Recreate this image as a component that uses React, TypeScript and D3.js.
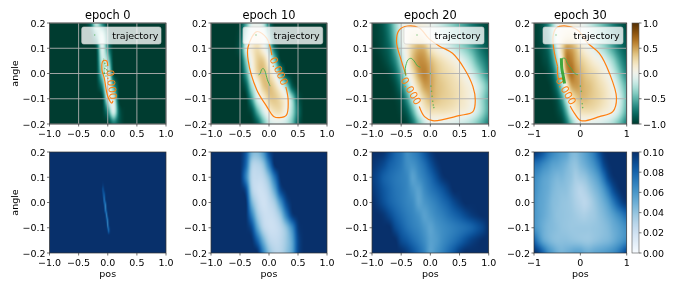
import React, { useMemo } from 'react';
import * as d3 from 'd3';

const epochs = [0, 10, 20, 30];
const angleRows = [0.2, 0.15, 0.1, 0.05, 0, -0.05, -0.1, -0.15, -0.2];
const posFull = [-1, -0.9, -0.8, -0.7, -0.6, -0.5, -0.4, -0.3, -0.2, -0.1, 0, 0.1, 0.2, 0.3, 0.4, 0.5, 0.6, 0.7, 0.8, 0.9, 1];
const posEpoch0 = [-0.4, -0.3, -0.2, -0.1, 0, 0.1, 0.2, 0.3];
const posEpoch10 = [-0.7, -0.6, -0.5, -0.4, -0.3, -0.2, -0.1, 0, 0.1, 0.2, 0.3, 0.4, 0.5, 0.6, 0.7];
const posSliver = [-0.12, -0.1, -0.08, -0.06, -0.04, -0.02, 0, 0.02, 0.04];
const angleSliver = [0.09, 0.07, 0.05, 0.03, 0.01, -0.01, -0.03, -0.05, -0.07, -0.09, -0.11, -0.13];

// value function, top row
const value0 = [
  [-1, -0.8, -0.2, -0.65, -1, -1, -1, -1],
  [-1, -1, -0.55, -0.15, -0.8, -1, -1, -1],
  [-1, -1, -0.95, -0.1, -0.65, -1, -1, -1],
  [-1, -1, -1, -0.2, -0.3, -1, -1, -1],
  [-1, -1, -1, -0.35, -0.02, -0.92, -1, -1],
  [-1, -1, -1, -0.7, 0.02, -0.55, -1, -1],
  [-1, -1, -1, -1, -0.15, -0.15, -1, -1],
  [-1, -1, -1, -1, -0.65, -0.12, -0.85, -1],
  [-1, -1, -1, -1, -1, -0.75, -0.9, -1],
];
const value10 = [
  [-1, -1, -0.95, -0.55, -0.1, -0.05, -0.2, -0.75, -1, -1, -1, -1, -1, -1, -1],
  [-1, -1, -0.9, -0.35, 0, 0.08, 0, -0.45, -0.95, -1, -1, -1, -1, -1, -1],
  [-1, -1, -0.85, -0.15, 0.12, 0.24, 0.06, -0.25, -0.8, -1, -1, -1, -1, -1, -1],
  [-1, -1, -0.95, -0.4, 0.03, 0.32, 0.34, 0.03, -0.4, -0.95, -1, -1, -1, -1, -1],
  [-1, -1, -1, -0.6, -0.05, 0.28, 0.4, 0.24, -0.02, -0.5, -0.95, -1, -1, -1, -1],
  [-1, -1, -1, -0.85, -0.3, 0.02, 0.34, 0.4, 0.26, 0, -0.35, -0.85, -1, -1, -1],
  [-1, -1, -1, -1, -0.6, -0.12, 0.08, 0.32, 0.35, 0.24, 0.03, -0.35, -0.85, -1, -1],
  [-1, -1, -1, -1, -0.9, -0.5, -0.15, 0.1, 0.22, 0.22, 0, -0.3, -0.75, -1, -1],
  [-1, -1, -1, -1, -1, -0.85, -0.5, -0.2, -0.1, -0.12, -0.2, -0.45, -0.85, -1, -1],
];
const value20 = [
  [-0.98, -0.95, -0.85, -0.65, -0.35, -0.1, 0.03, 0.08, 0.07, 0.04, -0.02, -0.1, -0.2, -0.3, -0.4, -0.5, -0.6, -0.72, -0.82, -0.9, -0.95],
  [-0.98, -0.95, -0.88, -0.7, -0.4, -0.08, 0.1, 0.2, 0.22, 0.14, 0.02, -0.08, -0.16, -0.25, -0.35, -0.45, -0.55, -0.65, -0.75, -0.85, -0.92],
  [-1, -0.97, -0.9, -0.78, -0.5, -0.15, 0.1, 0.33, 0.45, 0.42, 0.2, 0.08, 0, -0.08, -0.18, -0.28, -0.38, -0.5, -0.65, -0.78, -0.88],
  [-1, -1, -0.95, -0.85, -0.65, -0.3, 0.05, 0.38, 0.55, 0.55, 0.42, 0.3, 0.22, 0.15, 0.08, -0.02, -0.15, -0.3, -0.5, -0.65, -0.78],
  [-1, -1, -1, -0.95, -0.8, -0.5, -0.08, 0.22, 0.5, 0.6, 0.5, 0.38, 0.3, 0.25, 0.2, 0.12, 0, -0.12, -0.3, -0.5, -0.68],
  [-1, -1, -1, -1, -0.92, -0.7, -0.35, 0.03, 0.3, 0.5, 0.5, 0.4, 0.35, 0.3, 0.25, 0.2, 0.12, 0.04, -0.12, -0.3, -0.5],
  [-1, -1, -1, -1, -0.98, -0.88, -0.6, -0.2, 0.1, 0.3, 0.42, 0.38, 0.33, 0.3, 0.26, 0.2, 0.14, 0.05, -0.15, -0.35, -0.55],
  [-1, -1, -1, -1, -1, -0.95, -0.82, -0.5, -0.12, 0.12, 0.22, 0.22, 0.22, 0.2, 0.17, 0.12, 0.08, -0.01, -0.15, -0.35, -0.55],
  [-1, -1, -1, -1, -1, -1, -0.95, -0.75, -0.45, -0.2, -0.05, -0.05, -0.06, -0.08, -0.1, -0.15, -0.2, -0.28, -0.4, -0.55, -0.7],
];
const value30 = [
  [-0.98, -0.95, -0.85, -0.65, -0.35, -0.05, 0.05, 0.08, 0.08, 0.05, 0, -0.08, -0.18, -0.28, -0.38, -0.48, -0.58, -0.7, -0.8, -0.88, -0.95],
  [-0.98, -0.95, -0.88, -0.72, -0.38, -0.02, 0.12, 0.2, 0.22, 0.15, 0.05, -0.02, -0.12, -0.22, -0.32, -0.42, -0.52, -0.62, -0.72, -0.82, -0.9],
  [-1, -0.97, -0.92, -0.8, -0.5, -0.1, 0.25, 0.52, 0.5, 0.38, 0.2, 0.08, 0, -0.1, -0.2, -0.3, -0.42, -0.55, -0.68, -0.78, -0.86],
  [-1, -1, -0.95, -0.88, -0.65, -0.28, 0.12, 0.6, 0.62, 0.48, 0.35, 0.26, 0.18, 0.1, 0.04, -0.05, -0.18, -0.32, -0.5, -0.66, -0.78],
  [-1, -1, -1, -0.95, -0.82, -0.5, -0.1, 0.45, 0.66, 0.55, 0.45, 0.36, 0.3, 0.25, 0.18, 0.1, 0, -0.14, -0.32, -0.52, -0.68],
  [-1, -1, -1, -1, -0.92, -0.7, -0.32, 0.1, 0.45, 0.52, 0.48, 0.42, 0.38, 0.32, 0.26, 0.2, 0.12, 0.02, -0.15, -0.35, -0.52],
  [-1, -1, -1, -1, -0.98, -0.88, -0.6, -0.2, 0.12, 0.3, 0.4, 0.4, 0.36, 0.32, 0.28, 0.22, 0.15, 0.07, -0.05, -0.25, -0.48],
  [-1, -1, -1, -1, -1, -0.95, -0.82, -0.5, -0.1, 0.12, 0.22, 0.24, 0.24, 0.22, 0.18, 0.13, 0.08, 0, -0.12, -0.32, -0.52],
  [-1, -1, -1, -1, -1, -1, -0.95, -0.75, -0.45, -0.2, -0.05, -0.05, -0.06, -0.08, -0.1, -0.15, -0.2, -0.28, -0.4, -0.55, -0.7],
];

// uncertainty, bottom row
const std0 = [
  [0.1, 0.1, 0.1, 0.1, 0.1, 0.1, 0.1, 0.1, 0.1],
  [0.1, 0.1, 0.096, 0.1, 0.1, 0.1, 0.1, 0.1, 0.1],
  [0.1, 0.098, 0.086, 0.097, 0.1, 0.1, 0.1, 0.1, 0.1],
  [0.1, 0.1, 0.09, 0.08, 0.1, 0.1, 0.1, 0.1, 0.1],
  [0.1, 0.1, 0.098, 0.07, 0.095, 0.1, 0.1, 0.1, 0.1],
  [0.1, 0.1, 0.1, 0.09, 0.065, 0.098, 0.1, 0.1, 0.1],
  [0.1, 0.1, 0.1, 0.098, 0.068, 0.09, 0.1, 0.1, 0.1],
  [0.1, 0.1, 0.1, 0.1, 0.097, 0.065, 0.098, 0.1, 0.1],
  [0.1, 0.1, 0.1, 0.1, 0.1, 0.085, 0.07, 0.1, 0.1],
  [0.1, 0.1, 0.1, 0.1, 0.1, 0.098, 0.065, 0.095, 0.1],
  [0.1, 0.1, 0.1, 0.1, 0.1, 0.1, 0.09, 0.078, 0.1],
  [0.1, 0.1, 0.1, 0.1, 0.1, 0.1, 0.1, 0.1, 0.1],
];
const std10 = [
  [0.1, 0.1, 0.1, 0.085, 0.05, 0.045, 0.06, 0.09, 0.1, 0.1, 0.1, 0.1, 0.1, 0.1, 0.1],
  [0.1, 0.1, 0.1, 0.08, 0.035, 0.03, 0.04, 0.07, 0.1, 0.1, 0.1, 0.1, 0.1, 0.1, 0.1],
  [0.1, 0.1, 0.1, 0.07, 0.03, 0.025, 0.028, 0.045, 0.075, 0.1, 0.1, 0.1, 0.1, 0.1, 0.1],
  [0.1, 0.1, 0.1, 0.09, 0.035, 0.022, 0.022, 0.032, 0.055, 0.09, 0.1, 0.1, 0.1, 0.1, 0.1],
  [0.1, 0.1, 0.1, 0.1, 0.05, 0.028, 0.02, 0.025, 0.036, 0.062, 0.09, 0.1, 0.1, 0.1, 0.1],
  [0.1, 0.1, 0.1, 0.1, 0.07, 0.038, 0.024, 0.022, 0.026, 0.04, 0.07, 0.095, 0.1, 0.1, 0.1],
  [0.1, 0.1, 0.1, 0.1, 0.09, 0.055, 0.03, 0.022, 0.022, 0.028, 0.042, 0.065, 0.095, 0.1, 0.1],
  [0.1, 0.1, 0.1, 0.1, 0.1, 0.08, 0.05, 0.03, 0.025, 0.028, 0.038, 0.055, 0.09, 0.1, 0.1],
  [0.1, 0.1, 0.1, 0.1, 0.1, 0.1, 0.07, 0.042, 0.03, 0.03, 0.04, 0.055, 0.09, 0.1, 0.1],
];
const std20 = [
  [0.1, 0.1, 0.098, 0.09, 0.08, 0.074, 0.064, 0.068, 0.074, 0.085, 0.095, 0.1, 0.1, 0.1, 0.1, 0.1, 0.1, 0.1, 0.1, 0.1, 0.1],
  [0.098, 0.095, 0.09, 0.082, 0.077, 0.072, 0.064, 0.062, 0.068, 0.076, 0.087, 0.096, 0.1, 0.1, 0.1, 0.1, 0.1, 0.1, 0.1, 0.1, 0.1],
  [0.095, 0.09, 0.082, 0.077, 0.073, 0.07, 0.066, 0.056, 0.063, 0.07, 0.078, 0.088, 0.097, 0.1, 0.1, 0.1, 0.1, 0.1, 0.1, 0.1, 0.1],
  [0.097, 0.092, 0.085, 0.079, 0.074, 0.071, 0.067, 0.06, 0.056, 0.065, 0.072, 0.078, 0.085, 0.093, 0.1, 0.1, 0.1, 0.1, 0.1, 0.1, 0.1],
  [0.1, 0.095, 0.088, 0.081, 0.076, 0.072, 0.068, 0.064, 0.055, 0.06, 0.065, 0.07, 0.076, 0.082, 0.09, 0.096, 0.1, 0.1, 0.1, 0.1, 0.1],
  [0.1, 0.1, 0.097, 0.09, 0.082, 0.076, 0.071, 0.067, 0.062, 0.056, 0.06, 0.065, 0.069, 0.074, 0.079, 0.084, 0.09, 0.095, 0.098, 0.1, 0.1],
  [0.1, 0.1, 0.1, 0.1, 0.09, 0.082, 0.075, 0.07, 0.066, 0.06, 0.055, 0.06, 0.064, 0.067, 0.07, 0.073, 0.076, 0.08, 0.086, 0.092, 0.1],
  [0.1, 0.1, 0.1, 0.1, 0.1, 0.09, 0.084, 0.077, 0.071, 0.064, 0.056, 0.058, 0.064, 0.069, 0.074, 0.08, 0.087, 0.093, 0.097, 0.1, 0.1],
  [0.1, 0.1, 0.1, 0.1, 0.1, 0.1, 0.095, 0.087, 0.078, 0.068, 0.055, 0.061, 0.068, 0.076, 0.085, 0.095, 0.1, 0.1, 0.1, 0.1, 0.1],
];
const std30 = [
  [0.097, 0.092, 0.084, 0.074, 0.067, 0.062, 0.058, 0.055, 0.047, 0.045, 0.05, 0.056, 0.063, 0.072, 0.086, 0.097, 0.1, 0.1, 0.1, 0.1, 0.1],
  [0.075, 0.072, 0.066, 0.061, 0.056, 0.054, 0.051, 0.047, 0.042, 0.04, 0.045, 0.05, 0.056, 0.063, 0.074, 0.09, 0.098, 0.1, 0.1, 0.1, 0.1],
  [0.066, 0.061, 0.056, 0.053, 0.049, 0.046, 0.046, 0.043, 0.04, 0.035, 0.037, 0.04, 0.046, 0.052, 0.06, 0.074, 0.09, 0.098, 0.1, 0.1, 0.1],
  [0.064, 0.058, 0.054, 0.051, 0.046, 0.043, 0.042, 0.041, 0.037, 0.032, 0.029, 0.032, 0.038, 0.044, 0.05, 0.059, 0.072, 0.087, 0.096, 0.1, 0.1],
  [0.062, 0.056, 0.053, 0.049, 0.044, 0.042, 0.04, 0.039, 0.037, 0.033, 0.03, 0.028, 0.032, 0.038, 0.044, 0.05, 0.058, 0.07, 0.082, 0.092, 0.098],
  [0.061, 0.056, 0.052, 0.048, 0.044, 0.041, 0.04, 0.039, 0.038, 0.036, 0.034, 0.033, 0.035, 0.037, 0.041, 0.045, 0.05, 0.056, 0.063, 0.07, 0.078],
  [0.062, 0.056, 0.05, 0.046, 0.044, 0.042, 0.04, 0.039, 0.038, 0.038, 0.038, 0.038, 0.038, 0.039, 0.04, 0.042, 0.045, 0.05, 0.054, 0.059, 0.064],
  [0.08, 0.066, 0.054, 0.048, 0.044, 0.042, 0.042, 0.042, 0.041, 0.04, 0.039, 0.038, 0.038, 0.04, 0.042, 0.044, 0.046, 0.05, 0.055, 0.06, 0.066],
  [0.1, 0.092, 0.079, 0.065, 0.057, 0.05, 0.047, 0.049, 0.052, 0.055, 0.055, 0.051, 0.05, 0.053, 0.055, 0.057, 0.06, 0.064, 0.07, 0.08, 0.092],
];

// zero level of the value function, [pos, angle]
const contour0 = [[[0, 0.03], [-0.02, 0.05], [-0.08, 0.05], [-0.1, 0.015], [-0.06, -0.018], [0, -0.09], [0.07, -0.117], [0.09, -0.108]]];
const contour10 = [[[0.05, 0.073], [-0.04, 0.14], [-0.21, 0.166], [-0.36, 0.106], [-0.36, 0.053], [-0.21, -0.065], [-0.04, -0.13], [0.08, -0.17], [0.18, -0.175], [0.3, -0.165], [0.33, -0.105], [0.29, -0.053]]];
const contour20 = [[[-0.417, -0.006], [-0.5, 0.053], [-0.58, 0.126], [-0.535, 0.172], [-0.39, 0.188], [-0.19, 0.18], [-0.02, 0.137], [0.15, 0.109], [0.38, 0.08], [0.58, 0.02], [0.73, -0.052], [0.77, -0.105], [0.73, -0.151], [0.49, -0.167], [0.04, -0.187], [-0.1, -0.171], [-0.19, -0.131]]];
const contour30 = [
  [[-0.49, 0.027], [-0.57, 0.093], [-0.59, 0.146], [-0.52, 0.18], [-0.31, 0.188], [-0.06, 0.172], [0.16, 0.12], [0.41, 0.08], [0.63, 0], [0.78, -0.097], [0.7, -0.151], [0.41, -0.171], [0.02, -0.187], [-0.13, -0.157], [-0.22, -0.129]],
  [[-0.49, 0.027], [-0.47, -0.02], [-0.38, -0.022], [-0.34, -0.03]],
];
const contourLabels = [
  { pos: 0.068, angle: -0.044, rotate: 83 },
  { pos: 0.172, angle: 0.01, rotate: 65 },
  { pos: -0.33, angle: -0.069, rotate: 60 },
  { pos: -0.31, angle: -0.069, rotate: 60 },
];

// trajectories: dense stretch as a path, sparse visits as dots
const path0 = [[-0.07, 0.06], [-0.065, 0.03], [-0.06, 0]];
const path10 = [[-0.18, -0.005], [-0.15, 0], [-0.13, 0.015], [-0.1, 0.02], [-0.07, 0.01], [-0.04, -0.015], [-0.02, -0.03], [0, -0.04], [0.02, -0.05]];
const path20 = [[-0.42, -0.01], [-0.43, 0], [-0.43, 0.02], [-0.41, 0.04], [-0.38, 0.055], [-0.33, 0.06], [-0.28, 0.05], [-0.22, 0.03], [-0.17, 0.025]];
const path30 = [[-0.39, 0.06], [-0.33, 0.06], [-0.28, 0.04], [-0.2, 0.02], [-0.12, 0], [-0.05, -0.005]];
const dots0 = [[-0.05, 0.04], [-0.03, 0.03], [-0.05, 0.02], [-0.02, 0.015], [-0.06, 0], [-0.06, 0.002], [-0.03, -0.01], [0, 0.01]];
const dots10: number[][] = [];
const dots20 = [[0, 0], [0.01, -0.05], [0.02, -0.07], [0.03, -0.09], [0.04, -0.11], [0.05, -0.125], [0.06, -0.135]];
const dots30 = [[0, -0.05], [0.02, -0.07], [0.02, -0.1], [0.04, -0.12], [0.05, -0.135]];
const streak30 = [[-0.41, 0.06], [-0.4, 0.02], [-0.37, -0.01], [-0.34, -0.04]];

const valueTicks = [-1, -0.5, 0, 0.5, 1];
const stdTicks = [0, 0.02, 0.04, 0.06, 0.08, 0.1];
const angleTicks = [-0.2, -0.1, 0, 0.1, 0.2];
const posTicks = [-1, -0.5, 0, 0.5, 1];
const posTicksLast = [-1, 0, 1];

const panelX = [[49.5, 166], [211, 327], [372, 488.7], [534, 626.7]];
const rowY = [[23, 124], [152, 253]];
const legendX = [[81.7, 161], [243, 322.7], [404, 484], [543, 623]];
const barX = [632, 639];
const FONT = '"DejaVu Sans", sans-serif';
const TICK_SIZE = 9.5;

const valueColor = (v: number) => d3.interpolateBrBG((1 - v) / 2);
const stdColor = (v: number) => d3.interpolateBlues(v / 0.1);

function heatImage(xs: number[], ys: number[], rows: number[][], color: (v: number) => string, w: number, h: number, vMin: number, vMax: number) {
  const canvas = document.createElement('canvas');
  canvas.width = w;
  canvas.height = h;
  const ctx = canvas.getContext('2d')!;
  const image = ctx.createImageData(w, h);
  const xIndex = d3.scaleLinear().domain(xs).range(d3.range(xs.length)).clamp(true);
  const yIndex = d3.scaleLinear().domain(ys).range(d3.range(ys.length)).clamp(true);
  const cubic = (a: number, b: number, c: number, d: number, t: number) =>
    b + 0.5 * t * (c - a + t * (2 * a - 5 * b + 4 * c - d + t * (3 * (b - c) + d - a)));
  const at = (i: number, j: number) =>
    rows[Math.max(0, Math.min(rows.length - 1, j))][Math.max(0, Math.min(xs.length - 1, i))];
  for (let py = 0; py < h; py++) {
    const fy = yIndex(0.2 - ((py + 0.5) / h) * 0.4);
    const j = Math.floor(fy);
    for (let px = 0; px < w; px++) {
      const fx = xIndex(-1 + ((px + 0.5) / w) * 2);
      const i = Math.floor(fx);
      const line = [-1, 0, 1, 2].map(d =>
        cubic(at(i - 1, j + d), at(i, j + d), at(i + 1, j + d), at(i + 2, j + d), fx - i));
      const v = cubic(line[0], line[1], line[2], line[3], fy - j);
      const c = d3.rgb(color(Math.max(vMin, Math.min(vMax, v))));
      const k = (py * w + px) * 4;
      image.data[k] = c.r;
      image.data[k + 1] = c.g;
      image.data[k + 2] = c.b;
      image.data[k + 3] = 255;
    }
  }
  ctx.putImageData(image, 0, 0);
  return canvas.toDataURL();
}

const topGrids = [
  { xs: posEpoch0, rows: value0 },
  { xs: posEpoch10, rows: value10 },
  { xs: posFull, rows: value20 },
  { xs: posFull, rows: value30 },
];
const bottomGrids = [
  { xs: posSliver, ys: angleSliver, rows: std0 },
  { xs: posEpoch10, ys: angleRows, rows: std10 },
  { xs: posFull, ys: angleRows, rows: std20 },
  { xs: posFull, ys: angleRows, rows: std30 },
];
const contours = [contour0, contour10, contour20, contour30];
const paths = [path0, path10, path20, path30];
const dots = [dots0, dots10, dots20, dots30];

function Frame({ col, row, xTicks }: { col: number; row: number; xTicks: number[] }) {
  const [x0, x1] = panelX[col];
  const [y0, y1] = rowY[row];
  const x = d3.scaleLinear().domain([-1, 1]).range([x0, x1]);
  const y = d3.scaleLinear().domain([-0.2, 0.2]).range([y1, y0]);
  const fx = xTicks.length === 3 ? d3.format('d') : d3.format('.1f');
  return (
    <g fontFamily={FONT} fontSize={TICK_SIZE} fill="#000">
      <rect x={x0} y={y0} width={x1 - x0} height={y1 - y0} fill="none" stroke="#333" strokeWidth={0.7} />
      {xTicks.map(t => (
        <g key={t}>
          <line x1={x(t)} x2={x(t)} y1={y1} y2={y1 + 2.5} stroke="#333" strokeWidth={0.7} />
          <text x={x(t)} y={y1 + 12.5} textAnchor="middle">{fx(t)}</text>
        </g>
      ))}
      {angleTicks.map(t => (
        <g key={t}>
          <line x1={x0 - 2.5} x2={x0} y1={y(t)} y2={y(t)} stroke="#333" strokeWidth={0.7} />
          <text x={x0 - 4} y={y(t) + 3.5} textAnchor="end">{d3.format('.1f')(t)}</text>
        </g>
      ))}
    </g>
  );
}

export default function App() {
  const tops = useMemo(() => topGrids.map((g, i) => {
    const w = Math.round(panelX[i][1] - panelX[i][0]);
    return heatImage(g.xs, angleRows, g.rows, valueColor, w, 101, -1, 1);
  }), []);
  const bottoms = useMemo(() => bottomGrids.map((g, i) => {
    const w = Math.round(panelX[i][1] - panelX[i][0]);
    return heatImage(g.xs, g.ys, g.rows, stdColor, w, 101, 0, 0.1);
  }), []);

  const barValue = d3.scaleLinear().domain([-1, 1]).range([rowY[0][1], rowY[0][0]]);
  const barStd = d3.scaleLinear().domain([0, 0.1]).range([rowY[1][1], rowY[1][0]]);

  return (
    <svg width={676} height={290} style={{ position: 'absolute', left: 0, top: 0, background: '#fff', filter: 'blur(0.35px)' }}>
      {epochs.map((e, col) => {
        const [x0, x1] = panelX[col];
        const x = d3.scaleLinear().domain([-1, 1]).range([x0, x1]);
        const y = d3.scaleLinear().domain([-0.2, 0.2]).range([rowY[0][1], rowY[0][0]]);
        const line = d3.line<number[]>().x(d => x(d[0])).y(d => y(d[1])).curve(d3.curveCatmullRom);
        const xTicks = col === 3 ? posTicksLast : posTicks;
        const lab = contourLabels[col];
        const [lx0, lx1] = legendX[col];
        return (
          <g key={e}>
            <image href={tops[col]} x={x0} y={rowY[0][0]} width={x1 - x0} height={101} preserveAspectRatio="none" />
            {xTicks.map(t => (
              <line key={t} x1={x(t)} x2={x(t)} y1={rowY[0][0]} y2={rowY[0][1]} stroke="#b0b0b0" strokeWidth={0.9} />
            ))}
            {angleTicks.map(t => (
              <line key={t} x1={x0} x2={x1} y1={y(t)} y2={y(t)} stroke="#b0b0b0" strokeWidth={0.9} />
            ))}
            {contours[col].map((c, i) => (
              <path key={i} d={line(c) ?? ''} fill="none" stroke="#ff7f0e" strokeWidth={1.2} />
            ))}
            <text
              transform={`translate(${x(lab.pos)},${y(lab.angle)}) rotate(${lab.rotate})`}
              textAnchor="middle" dy="0.36em" fontFamily={FONT} fontSize={10.5} fill="#ff7f0e"
            >0.000</text>
            <path d={line(paths[col]) ?? ''} fill="none" stroke="#3fae49" strokeWidth={col === 0 ? 0.6 : 1} opacity={col === 0 ? 0.6 : 0.9} />
            {col === 3 && <path d={line(streak30) ?? ''} fill="none" stroke="#2ca02c" strokeWidth={3} opacity={0.9} />}
            {dots[col].map((d, i) => (
              <circle key={i} cx={x(d[0])} cy={y(d[1])} r={0.8} fill="#3fae49" opacity={0.75} />
            ))}
            <rect x={lx0} y={27} width={lx1 - lx0} height={17} rx={2} fill="#fff" fillOpacity={0.78} stroke="#ccc" strokeWidth={0.6} />
            <circle cx={lx0 + 13} cy={35} r={0.7} fill="#2ca02c" opacity={0.6} />
            <text x={lx0 + 30.5} y={38.5} fontFamily={FONT} fontSize={TICK_SIZE} fill="#000">trajectory</text>
            <text x={(x0 + x1) / 2} y={19} textAnchor="middle" fontFamily={FONT} fontSize={11.4} fill="#000">{`epoch ${e}`}</text>
            <Frame col={col} row={0} xTicks={xTicks} />

            <image href={bottoms[col]} x={x0} y={rowY[1][0]} width={x1 - x0} height={101} preserveAspectRatio="none" />
            <Frame col={col} row={1} xTicks={xTicks} />
            <text x={(x0 + x1) / 2} y={277} textAnchor="middle" fontFamily={FONT} fontSize={TICK_SIZE} fill="#000">pos</text>
          </g>
        );
      })}

      {[0, 1].map(r => (
        <text key={r} transform={`translate(18,${(rowY[r][0] + rowY[r][1]) / 2}) rotate(-90)`} textAnchor="middle"
          fontFamily={FONT} fontSize={TICK_SIZE} fill="#000">angle</text>
      ))}

      {d3.range(101).map(i => (
        <g key={i}>
          <rect x={barX[0]} y={rowY[0][0] + i} width={barX[1] - barX[0]} height={1.2} fill={valueColor(barValue.invert(rowY[0][0] + i + 0.5))} />
          <rect x={barX[0]} y={rowY[1][0] + i} width={barX[1] - barX[0]} height={1.2} fill={stdColor(barStd.invert(rowY[1][0] + i + 0.5))} />
        </g>
      ))}
      <g fontFamily={FONT} fontSize={TICK_SIZE} fill="#000">
        <rect x={barX[0]} y={rowY[0][0]} width={barX[1] - barX[0]} height={101} fill="none" stroke="#555" strokeWidth={0.6} />
        <rect x={barX[0]} y={rowY[1][0]} width={barX[1] - barX[0]} height={101} fill="none" stroke="#555" strokeWidth={0.6} />
        {valueTicks.map(t => (
          <g key={t}>
            <line x1={barX[1]} x2={barX[1] + 2.5} y1={barValue(t)} y2={barValue(t)} stroke="#333" strokeWidth={0.7} />
            <text x={barX[1] + 4} y={barValue(t) + 3.5}>{d3.format('.1f')(t)}</text>
          </g>
        ))}
        {stdTicks.map(t => (
          <g key={t}>
            <line x1={barX[1]} x2={barX[1] + 2.5} y1={barStd(t)} y2={barStd(t)} stroke="#333" strokeWidth={0.7} />
            <text x={barX[1] + 4} y={barStd(t) + 3.5}>{d3.format('.2f')(t)}</text>
          </g>
        ))}
      </g>
    </svg>
  );
}
